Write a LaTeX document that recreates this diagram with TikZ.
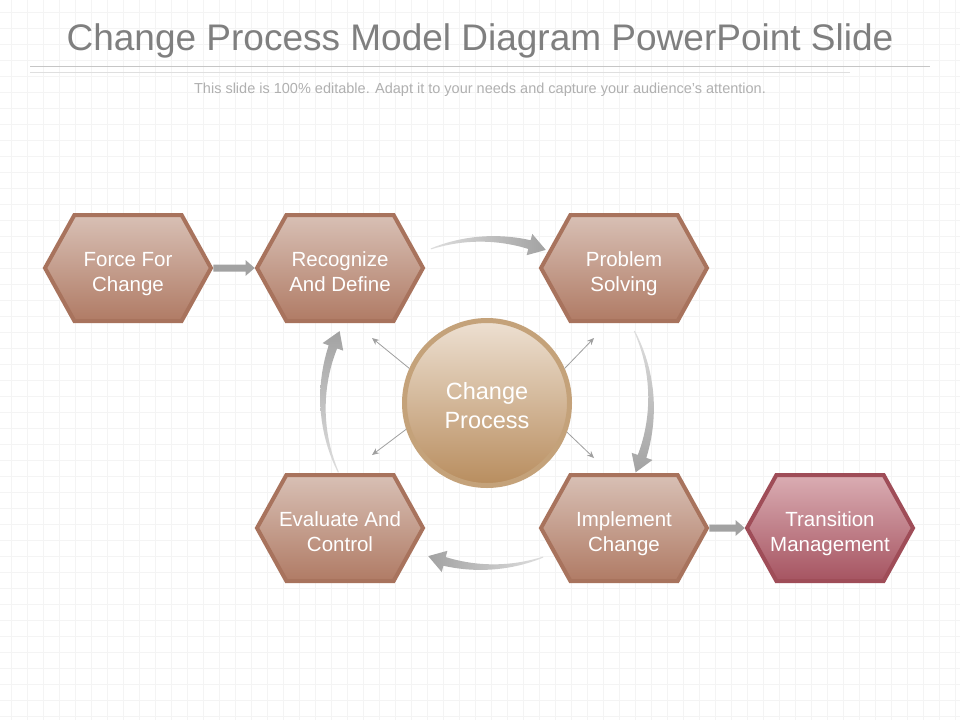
\documentclass[tikz,border=0pt]{standalone}
\usepackage{fontspec}
\setmainfont{Liberation Sans}
\usetikzlibrary{shapes.symbols,arrows.meta}
\definecolor{hexline}{HTML}{A8735D}
\definecolor{hextop}{HTML}{D8C0B5}
\definecolor{hexbot}{HTML}{B07B65}
\definecolor{tmline}{HTML}{9F4D58}
\definecolor{tmtop}{HTML}{DAADB3}
\definecolor{tmbot}{HTML}{A65461}
\definecolor{cirline}{HTML}{C4A27A}
\definecolor{cirtop}{HTML}{EDE0D2}
\definecolor{cirbot}{HTML}{B88D5E}
\definecolor{arrgray}{HTML}{A2A2A2}
\definecolor{gridgray}{HTML}{F4F4F4}
\definecolor{titlegray}{HTML}{7F7F7F}
\begin{document}
\begin{tikzpicture}[x=1pt,y=-1pt,
    hexa/.style={signal, signal to=west and east, signal pointer angle=122,
        minimum width=166pt, minimum height=106pt, inner ysep=0pt, inner xsep=-15pt,
        draw=hexline, line width=4pt, top color=hextop, bottom color=hexbot,
        text=white, align=center, text height=46pt, text depth=0pt,
        font=\fontsize{20.5}{25}\selectfont},
    hub/.style={circle, minimum size=165pt, inner sep=0pt, draw=cirline, line width=5pt,
        top color=cirtop, bottom color=cirbot, text=white, align=center,
        text height=51pt, text depth=0pt, font=\fontsize{23.5}{29}\selectfont},
    fatarr/.style={draw=arrgray, line width=7pt, -{Triangle[length=9pt,width=15pt]}},
    thinarr/.style={draw=gray!75, line width=0.8pt, -{Stealth[length=7pt,width=6pt]}}]
    \fill[white] (0,0) rectangle (960,720);
    \useasboundingbox (0,0) rectangle (960,720);
    \foreach \gx in {11,27,...,960} \draw[gridgray, line width=0.5pt] (\gx,0) -- (\gx,720);
    \foreach \gy in {12,28,...,720} \draw[gridgray, line width=0.5pt] (0,\gy) -- (960,\gy);

    % title
    \node[anchor=base, text=titlegray, font=\fontsize{37}{40}\selectfont] (title) at (480,50) {Change Process Model Diagram PowerPoint Slide};
    \draw[gray!45, line width=0.8pt] (30,66) -- (930,66);
    \draw[gray!25, line width=0.8pt] (30,72) -- (850,72);
    \node[anchor=base, text=gray!62, font=\fontsize{14.5}{16}\selectfont] (sub) at (480,93) {This slide is 100\% editable. Adapt it to your needs and capture your audience's attention.};

    \node[hexa] (force) at (128,268) {Force For\\Change};
    \node[hexa] (recog) at (340,268) {Recognize\\And Define};
    \node[hexa] (prob) at (624,268) {Problem\\Solving};
    \node[hexa] (eval) at (340,528) {Evaluate And\\Control};
    \node[hexa] (impl) at (624,528) {Implement\\Change};
    \node[hexa, draw=tmline, top color=tmtop, bottom color=tmbot] (trans) at (830,528) {Transition\\Management};
    \node[hub] (cp) at (487,403) {Change\\Process};

    \draw[fatarr] (force) -- (recog);
    \draw[fatarr] (impl) -- (trans);

    % curved arrows round the hub
    \begin{scope}[shift={(cp.center)}]
    \foreach \a/\t/\ang in {-110/-69/90, -26/25/0, 70/111/-90, 155/206/180}{
        \pgfmathsetmacro{\h}{\t-6}
        \shade[top color=arrgray!35, bottom color=arrgray, shading angle=\ang]
            plot[domain=\a:\h, samples=20] (\x:{164+0.5+4*(\x-\a)/(\h-\a)})
            -- (\h:175) -- (\t:164) -- (\h:153)
            -- plot[domain=\h:\a, samples=20] (\x:{164-0.5-4*(\x-\a)/(\h-\a)}) -- cycle;
    }
    \end{scope}

    \coordinate (ul) at (372,338);
    \coordinate (ur) at (594,338);
    \coordinate (ll) at (372,455);
    \coordinate (lr) at (594,458);
    \draw[thinarr] (cp.156) -- (ul);
    \draw[thinarr] (cp.24) -- (ur);
    \draw[thinarr] (cp.-162) -- (ll);
    \draw[thinarr] (cp.-20) -- (lr);
\end{tikzpicture}
\end{document}
